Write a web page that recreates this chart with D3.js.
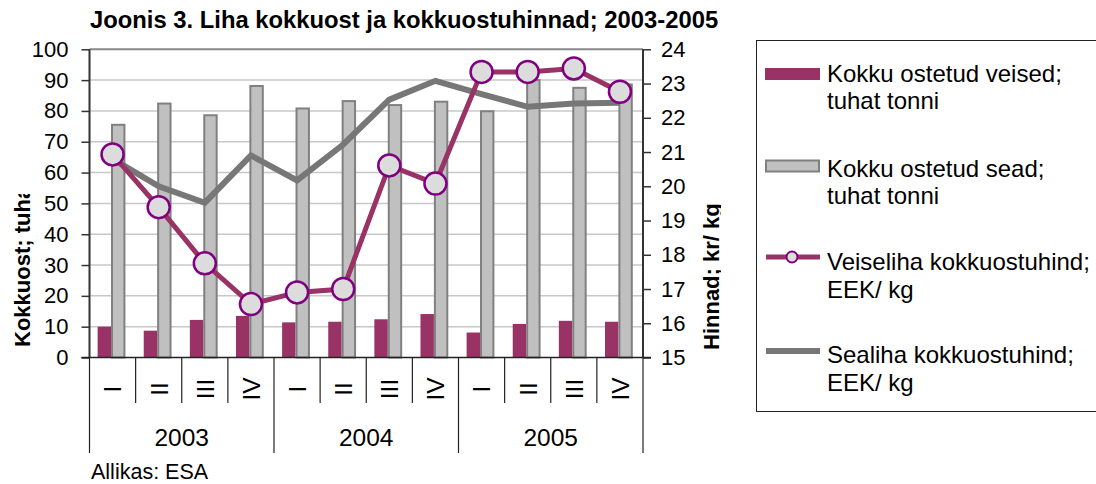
<!DOCTYPE html>
<html>
<head>
<meta charset="utf-8">
<script src="https://cdn.jsdelivr.net/npm/d3@7"></script>
<style>
  body { margin: 0; background: #fff; }
  text { font-family: "Liberation Sans", Arial, sans-serif; fill: #000; }
</style>
</head>
<body>
<div id="chart"></div>
<script>
// data
const quarters = ["I", "II", "III", "IV", "I", "II", "III", "IV", "I", "II", "III", "IV"];
const years = ["2003", "2004", "2005"];
const veised = [10.0, 8.7, 12.2, 13.5, 11.4, 11.6, 12.4, 14.1, 8.1, 10.9, 11.9, 11.6];
const sead = [75.5, 82.4, 78.6, 88.1, 80.8, 83.2, 81.9, 83.0, 79.9, 90.0, 87.5, 88.6];
const veiselihaHind = [20.93, 19.39, 17.75, 16.56, 16.90, 17.0, 20.61, 20.08, 23.34, 23.34, 23.44, 22.76];
const sealihaHind = [20.8, 20.0, 19.52, 20.9, 20.17, 21.22, 22.53, 23.08, 22.69, 22.32, 22.42, 22.44];
const leftTicks = [0, 10, 20, 30, 40, 50, 60, 70, 80, 90, 100];
const rightTicks = [15, 16, 17, 18, 19, 20, 21, 22, 23, 24];
const legendItems = [
  { lines: ["Kokku ostetud veised;", "tuhat tonni"], type: "bar1" },
  { lines: ["Kokku ostetud sead;", "tuhat tonni"], type: "bar2" },
  { lines: ["Veiseliha kokkuostuhind;", "EEK/ kg"], type: "line1" },
  { lines: ["Sealiha kokkuostuhind;", "EEK/ kg"], type: "line2" }
];

const width = 1096, height = 484;
const plot = { left: 89.5, right: 643, top: 49.3, bottom: 357.5 };
const maroon = "#993366", grayLine = "#777777";

const svg = d3.select("#chart")
  .append("svg")
  .attr("width", width)
  .attr("height", height);

//scales
const idx = d3.range(quarters.length);
const xScale = d3.scaleBand().domain(idx).range([plot.left, plot.right]);
const xInner = d3.scaleBand().domain(["veised", "sead"])
  .range([0, xScale.bandwidth()])
  .paddingOuter(0.72).align(0.42);
const yLeft = d3.scaleLinear().domain([0, 100]).range([plot.bottom, plot.top]);
const yRight = d3.scaleLinear().domain([15, 24]).range([plot.bottom, plot.top]);

//title
svg.append("text")
  .attr("x", 90).attr("y", 28)
  .attr("font-size", 23.8).attr("font-weight", "bold")
  .text("Joonis 3. Liha kokkuost ja kokkuostuhinnad; 2003-2005");

//gridlines
svg.append("g")
  .selectAll("line")
  .data(leftTicks.filter(t => t > 0 && t < 100))
  .join("line")
    .attr("x1", plot.left).attr("x2", plot.right)
    .attr("y1", d => yLeft(d)).attr("y2", d => yLeft(d))
    .attr("stroke", "#c8c8c8").attr("stroke-width", 1.5);

// top border of plot area
svg.append("line")
  .attr("x1", plot.left).attr("x2", plot.right)
  .attr("y1", plot.top).attr("y2", plot.top)
  .attr("stroke", "#888").attr("stroke-width", 2);

//bars
svg.append("g")
  .selectAll("rect")
  .data(veised)
  .join("rect")
    .attr("x", (d, i) => xScale(i) + xInner("veised"))
    .attr("y", d => yLeft(d))
    .attr("width", xInner.bandwidth())
    .attr("height", d => yLeft(0) - yLeft(d))
    .attr("fill", maroon);

svg.append("g")
  .selectAll("rect")
  .data(sead)
  .join("rect")
    .attr("x", (d, i) => xScale(i) + xInner("sead") + 1)
    .attr("y", d => yLeft(d))
    .attr("width", xInner.bandwidth() - 1)
    .attr("height", d => yLeft(0) - yLeft(d))
    .attr("fill", "#c0c0c0")
    .attr("stroke", "#808080")
    .attr("stroke-width", 2);

//lines
const cx = i => xScale(i) + xScale.bandwidth() / 2;
const lineGen = d3.line().x((d, i) => cx(i)).y(d => yRight(d));

svg.append("path")
  .attr("d", lineGen(sealihaHind))
  .attr("fill", "none")
  .attr("stroke", grayLine)
  .attr("stroke-width", 6);

svg.append("path")
  .attr("d", lineGen(veiselihaHind))
  .attr("fill", "none")
  .attr("stroke", maroon)
  .attr("stroke-width", 5);

svg.append("g")
  .selectAll("circle")
  .data(veiselihaHind)
  .join("circle")
    .attr("cx", (d, i) => cx(i))
    .attr("cy", d => yRight(d))
    .attr("r", 11)
    .attr("fill", "#dcdcdc")
    .attr("stroke", "#800080")
    .attr("stroke-width", 2.5);

//axes
const leftAxis = svg.append("g")
  .attr("transform", `translate(${plot.left},0)`)
  .call(d3.axisLeft(yLeft).tickValues(leftTicks).tickSize(8).tickPadding(13));
const rightAxis = svg.append("g")
  .attr("transform", `translate(${plot.right},0)`)
  .call(d3.axisRight(yRight).tickValues(rightTicks).tickSize(8).tickPadding(10));

[leftAxis, rightAxis].forEach(ax => {
  ax.select(".domain").attr("stroke", "#333").attr("stroke-width", 2)
    .attr("d", `M0,${plot.top}V${plot.bottom}`);
  ax.selectAll(".tick line").attr("stroke", "#333").attr("stroke-width", 1.5);
  ax.selectAll(".tick text")
    .attr("font-size", 22)
    .attr("font-family", "Liberation Sans, Arial, sans-serif")
    .attr("fill", "#000");
});

// bottom axis line and category separators
svg.append("line")
  .attr("x1", plot.left - 8).attr("x2", plot.right + 8)
  .attr("y1", plot.bottom).attr("y2", plot.bottom)
  .attr("stroke", "#222").attr("stroke-width", 1.5);

const bounds = d3.range(quarters.length + 1);
svg.append("g")
  .selectAll("line")
  .data(bounds)
  .join("line")
    .attr("x1", d => plot.left + d * xScale.step())
    .attr("x2", d => plot.left + d * xScale.step())
    .attr("y1", plot.bottom)
    .attr("y2", d => d % 4 === 0 ? 453 : 403)
    .attr("stroke", "#222").attr("stroke-width", 1.2);

//quarter labels, rotated like in the original
svg.append("g")
  .selectAll("text")
  .data(quarters)
  .join("text")
    .attr("transform", (d, i) => `translate(${cx(i)},389) rotate(-90)`)
    .attr("text-anchor", "middle")
    .attr("dy", "0.36em")
    .attr("font-size", 24.5)
    .text(d => d);

svg.append("g")
  .selectAll("text")
  .data(years)
  .join("text")
    .attr("x", (d, i) => plot.left + (i * 4 + 2) * xScale.step())
    .attr("y", 446)
    .attr("text-anchor", "middle")
    .attr("font-size", 24.5)
    .text(d => d);

svg.append("text")
  .attr("x", 91).attr("y", 479)
  .attr("font-size", 21.5)
  .text("Allikas: ESA");

//axis titles, clipped as in the picture
const defs = svg.append("defs");
defs.append("clipPath").attr("id", "clipL")
  .append("rect").attr("x", 0).attr("y", 194).attr("width", 60).attr("height", 230);
defs.append("clipPath").attr("id", "clipR")
  .append("rect").attr("x", 690).attr("y", 40).attr("width", 31).attr("height", 340);

svg.append("g").attr("clip-path", "url(#clipL)")
  .append("text")
    .attr("transform", "translate(30,347) rotate(-90)")
    .attr("font-size", 22).attr("font-weight", "bold")
    .text("Kokkuost; tuhat tonni");

svg.append("g").attr("clip-path", "url(#clipR)")
  .append("text")
    .attr("transform", "translate(719,350) rotate(-90)")
    .attr("font-size", 22).attr("font-weight", "bold")
    .text("Hinnad; kr/ kg");

//legend
const legend = svg.append("g");
legend.append("rect")
  .attr("x", 756.5).attr("y", 40.5)
  .attr("width", 360).attr("height", 371)
  .attr("fill", "none").attr("stroke", "#222").attr("stroke-width", 1);

const markerY = [74, 166, 257, 351];
const baseY = [81.7, 176.7, 270, 363];

legendItems.forEach((item, k) => {
  const g = legend.append("g");
  const my = markerY[k];
  if (item.type === "bar1") {
    g.append("rect").attr("x", 765).attr("y", my - 6).attr("width", 55).attr("height", 12)
      .attr("fill", maroon);
  } else if (item.type === "bar2") {
    g.append("rect").attr("x", 766).attr("y", my - 5.5).attr("width", 53).attr("height", 11)
      .attr("fill", "#c0c0c0").attr("stroke", "#808080").attr("stroke-width", 2);
  } else {
    g.append("line").attr("x1", 766).attr("x2", 820).attr("y1", my).attr("y2", my)
      .attr("stroke", item.type === "line1" ? maroon : grayLine)
      .attr("stroke-width", item.type === "line1" ? 5 : 6);
    if (item.type === "line1") {
      g.append("circle").attr("cx", 792).attr("cy", my).attr("r", 5.5)
        .attr("fill", "#dcdcdc").attr("stroke", "#800080").attr("stroke-width", 2);
    }
  }
  item.lines.forEach((ln, j) => {
    g.append("text")
      .attr("x", 827).attr("y", baseY[k] + j * 27.5)
      .attr("font-size", 24)
      .text(ln);
  });
});
</script>
</body>
</html>
